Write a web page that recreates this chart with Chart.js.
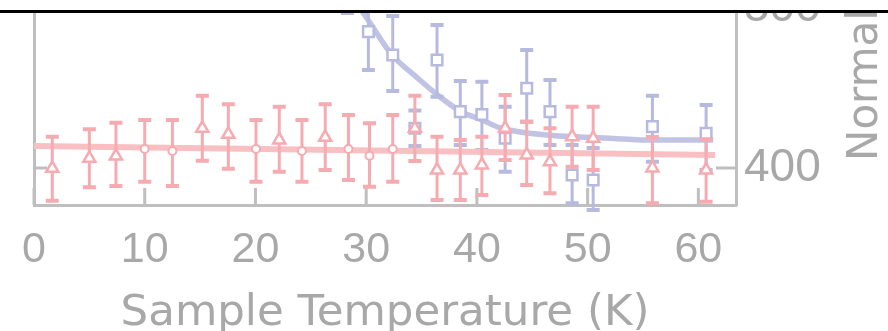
<!DOCTYPE html>
<html>
<head>
<meta charset="utf-8">
<script src="https://cdn.jsdelivr.net/npm/chart.js@4.4.1/dist/chart.umd.min.js"></script>
<style>
  html, body { margin: 0; padding: 0; background: #fff; overflow: hidden; }
  body { width: 888px; height: 331px; position: relative; }
  #wrap { position: absolute; left: 0; top: -70px; width: 888px; height: 420px; }
  #rule { position: absolute; left: 0; top: 0; width: 888px; height: 10px; background: #fff; border-bottom: 3px solid #000; }
</style>
</head>
<body>
<div id="wrap"><canvas id="chart"></canvas></div>
<div id="rule"></div>
<script>
// heating run, triangles
const triT  = [1.65, 5.0, 7.4, 15.2, 17.55, 22.15, 26.3, 34.4, 36.4, 38.5, 40.45, 42.55, 44.5, 46.6, 48.6, 50.5, 55.85, 60.7];
const triY  = [399.8, 406.1, 407.5, 424.9, 421.1, 417.6, 419.2, 424.9, 398.7, 398.7, 401.9, 424.9, 408.2, 403.9, 419.6, 418.6, 400.0, 398.7];
const triHi = [419.6, 424.3, 428.4, 445.3, 439.9, 438.4, 439.9, 445.3, 419.6, 417.6, 419.6, 445.8, 429.0, 424.9, 438.4, 438.4, 419.4, 417.6];
const triLo = [379.5, 387.9, 388.7, 404.6, 399.6, 397.7, 398.7, 404.4, 379.9, 379.9, 383.1, 405.0, 389.3, 384.1, 400.8, 398.7, 377.9, 378.9];

// cooling run, circles
const circT  = [10.0, 12.5, 20.05, 24.2, 28.4, 30.3, 32.4];
const circY  = [411.9, 410.7, 411.9, 410.7, 411.9, 407.7, 411.9];
const circHi = [430.1, 430.1, 430.1, 430.1, 433.2, 428.0, 433.2];
const circLo = [391.4, 388.7, 391.4, 391.4, 392.5, 388.3, 391.4];

// flat fit through the red points
const redFitT = [0, 61.5];
const redFitY = [413.8, 408.2];

// second sample, squares
const sqT  = [28.3, 30.2, 32.4, 34.4, 36.4, 38.5, 40.45, 42.55, 44.5, 46.6, 48.6, 50.5, 55.85, 60.7];
const sqY  = [521.0, 485.5, 470.8, 424.9, 467.7, 435.3, 433.5, 418.6, 450.0, 435.3, 395.6, 392.5, 425.9, 421.8];
const sqHi = [545.0, 509.7, 495.3, 436.0, 489.7, 454.5, 454.0, 438.4, 474.0, 455.2, 414.4, 412.5, 445.3, 439.5];
const sqLo = [497.2, 461.4, 448.3, 413.8, 444.7, 414.4, 411.3, 397.7, 429.0, 414.4, 377.9, 373.7, 403.9, 398.7];

// guide line through the squares
const blueFitT = [27.1, 30.17, 32.34, 34.42, 36.68, 38.48, 40.47, 42.1, 43.9, 46.34, 49.32, 52.3, 54.74, 61.34];
const blueFitY = [524.1, 492.8, 470.8, 457.7, 444.5, 435.7, 430.1, 425.1, 422.6, 420.7, 419.4, 418.5, 417.6, 417.6];

const xTicks = [0, 10, 20, 30, 40, 50, 60];
const yTicks = [400, 500];

const PINK = "#f5abb0";
const PINK_FIT = "#f8c0c3";
const LAV = "#b6badf";
const LAV_FIT = "#c0c3e4";
const AXIS = "#bfbfbf";
const TEXT = "#a8a8a8";
const FONT = "'Liberation Sans', Arial, sans-serif";
const TITLE_FONT = "'DejaVu Sans', sans-serif";

const pts = (xs, ys) => xs.map((x, i) => ({ x, y: ys[i] }));

// vertical error bars with caps, drawn just under each dataset's markers
const errorBars = {
  id: "errorBars",
  beforeDatasetDraw(chart, args) {
    const ds = chart.data.datasets[args.index];
    if (!ds.errHi) return;
    const xs = chart.scales.x, ys = chart.scales.y;
    const ctx = chart.ctx;
    ctx.save();
    ctx.strokeStyle = ds.borderColor;
    ds.data.forEach((p, i) => {
      const px = xs.getPixelForValue(p.x);
      const top = ys.getPixelForValue(ds.errHi[i]);
      const bot = ys.getPixelForValue(ds.errLo[i]);
      ctx.lineWidth = 3;
      ctx.beginPath();
      ctx.moveTo(px, top);
      ctx.lineTo(px, bot);
      ctx.stroke();
      ctx.lineWidth = 4;
      ctx.beginPath();
      ctx.moveTo(px - 6.5, top);
      ctx.lineTo(px + 6.5, top);
      ctx.moveTo(px - 6.5, bot);
      ctx.lineTo(px + 6.5, bot);
      ctx.stroke();
    });
    ctx.restore();
  },
};

// tick marks pointing into the plot box, plus the rotated right-hand axis label
const frame = {
  id: "frame",
  beforeDatasetsDraw(chart) {
    const { ctx, chartArea: a } = chart;
    const xs = chart.scales.x, ys = chart.scales.y;
    ctx.save();
    ctx.strokeStyle = AXIS;
    ctx.lineWidth = 3;
    ctx.beginPath();
    xTicks.forEach((t) => {
      const px = xs.getPixelForValue(t);
      ctx.moveTo(px, a.bottom);
      ctx.lineTo(px, a.bottom - 17);
    });
    yTicks.forEach((t) => {
      const py = ys.getPixelForValue(t);
      ctx.moveTo(a.left, py);
      ctx.lineTo(a.left + 13, py);
      ctx.moveTo(a.right, py);
      ctx.lineTo(a.right - 20, py);
    });
    ctx.stroke();
    ctx.restore();
  },
  afterDraw(chart) {
    const { ctx, chartArea: a } = chart;
    ctx.save();
    ctx.translate(a.right + 141, a.bottom - 44);
    ctx.rotate(-Math.PI / 2);
    ctx.fillStyle = TEXT;
    ctx.font = `42px ${TITLE_FONT}`;
    ctx.textAlign = "left";
    ctx.textBaseline = "alphabetic";
    ctx.fillText("Normalized Intensity (a.u.)", 0, 0);
    ctx.restore();
  },
};

new Chart(document.getElementById("chart"), {
  type: "scatter",
  data: {
    datasets: [
      {
        label: "Heating",
        data: pts(triT, triY),
        errHi: triHi,
        errLo: triLo,
        borderColor: PINK,
        backgroundColor: "#fff",
        pointStyle: "triangle",
        pointRadius: 7,
        borderWidth: 2.5,
      },
      {
        label: "Cooling",
        data: pts(circT, circY),
        errHi: circHi,
        errLo: circLo,
        borderColor: PINK,
        backgroundColor: "#fff",
        pointStyle: "circle",
        pointRadius: 4,
        borderWidth: 2,
      },
      {
        label: "Fit",
        data: pts(redFitT, redFitY),
        showLine: true,
        borderColor: PINK_FIT,
        borderWidth: 6,
        pointRadius: 0,
      },
      {
        label: "Sample B",
        data: pts(sqT, sqY),
        errHi: sqHi,
        errLo: sqLo,
        borderColor: LAV,
        backgroundColor: "#fff",
        pointStyle: "rect",
        pointRadius: 7.5,
        borderWidth: 2.5,
      },
      {
        label: "Sample B guide",
        data: pts(blueFitT, blueFitY),
        showLine: true,
        cubicInterpolationMode: "monotone",
        borderColor: LAV_FIT,
        borderWidth: 5.5,
        pointRadius: 0,
      },
    ],
  },
  options: {
    animation: false,
    responsive: true,
    maintainAspectRatio: false,
    layout: { padding: { top: 40, left: 0, right: 0, bottom: 0 } },
    plugins: {
      legend: { display: false },
      tooltip: { enabled: false },
    },
    scales: {
      x: {
        type: "linear",
        position: "bottom",
        min: 0,
        max: 63.4,
        afterBuildTicks: (s) => { s.ticks = xTicks.map((v) => ({ value: v })); },
        afterFit: (s) => { s.height = 145; },
        grid: { display: false, drawTicks: false },
        border: { color: AXIS, width: 3 },
        ticks: { color: TEXT, padding: 19, font: { family: FONT, size: 43 } },
        title: {
          display: true,
          text: "Sample Temperature (K)",
          color: TEXT,
          font: { family: TITLE_FONT, size: 43.5 },
          padding: { top: 0, bottom: 10 },
        },
      },
      y: {
        position: "left",
        min: 376.8,
        max: 524.1,
        afterFit: (s) => { s.width = 34; },
        grid: { display: false, drawTicks: false },
        border: { color: AXIS, width: 3 },
        ticks: { display: false },
      },
      y2: {
        position: "right",
        min: 376.8,
        max: 524.1,
        afterBuildTicks: (s) => { s.ticks = yTicks.map((v) => ({ value: v })); },
        afterFit: (s) => { s.width = 152; },
        grid: { display: false, drawTicks: false },
        border: { color: AXIS, width: 3 },
        ticks: { color: TEXT, padding: 8, font: { family: FONT, size: 46 } },
      },
    },
  },
  plugins: [errorBars, frame],
});
</script>
</body>
</html>
